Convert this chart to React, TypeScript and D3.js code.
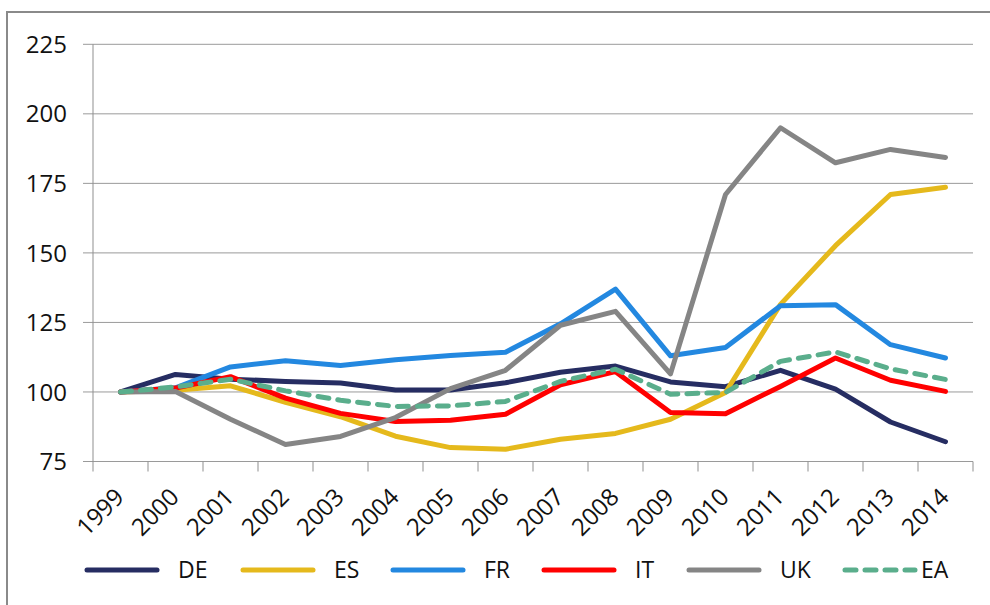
import React, { useEffect, useRef } from 'react';
import * as d3 from 'd3';

const years = ['1999', '2000', '2001', '2002', '2003', '2004', '2005', '2006',
  '2007', '2008', '2009', '2010', '2011', '2012', '2013', '2014'];

const seriesNames = ['DE', 'ES', 'FR', 'IT', 'UK', 'EA'];

const DE = [100, 106.3, 104.6, 103.8, 103.2, 100.7, 100.7, 103.3, 107.1, 109.3, 103.6, 101.9, 107.8, 101, 89.2, 82.1];
const ES = [100, 100.6, 102.2, 96.3, 91.1, 84.1, 80, 79.4, 83, 85.1, 90.2, 99.8, 131.5, 152.6, 171, 173.6];
const FR = [100, 101.5, 109, 111.2, 109.5, 111.6, 113.1, 114.3, 124.5, 137, 113, 116, 131, 131.4, 117, 112.2];
const IT = [100, 101.4, 105.5, 97.8, 92.3, 89.4, 89.8, 92, 102.6, 107.3, 92.6, 92.2, 102, 112.2, 104.2, 100.2];
const UK = [100, 100.2, 90.2, 81.1, 84, 90.8, 101.2, 107.8, 124, 129, 106.5, 171, 195, 182.4, 187.2, 184.3];
const EA = [100, 101.8, 104.6, 100.4, 97, 94.8, 95, 96.6, 103.8, 108.2, 99.2, 99.8, 111, 114.4, 108.3, 104.5];

const yTicks = [75, 100, 125, 150, 175, 200, 225];

const colors = ['#262d62', '#e5b91c', '#2388e0', '#ff0000', '#858585', '#5aae8c'];
// legend item x positions (line start)
const legendX = [85, 241, 391, 542, 687, 843];

function LineChart() {
  const ref = useRef<SVGSVGElement>(null);

  useEffect(() => {
    const svg = d3.select(ref.current);
    svg.selectAll('*').remove();

    const font = "'Open Sans', 'Liberation Sans', sans-serif";
    const values = [DE, ES, FR, IT, UK, EA];

    const x = d3.scaleBand().domain(years).range([93, 973]).padding(0);
    const y = d3.scaleLinear().domain([75, 225]).range([461.5, 44.3]);
    const cx = (d: string) => (x(d) as number) + x.bandwidth() / 2;

    // outer frame
    svg.append('rect')
      .attr('x', 7).attr('y', 12)
      .attr('width', 1000).attr('height', 700)
      .attr('fill', 'none')
      .attr('stroke', '#8a8a8a')
      .attr('stroke-width', 2);

    // gridlines + y ticks
    const g = svg.append('g');
    g.selectAll('line.grid')
      .data(yTicks)
      .enter()
      .append('line')
      .attr('x1', 83).attr('x2', 973)
      .attr('y1', d => y(d)).attr('y2', d => y(d))
      .attr('stroke', '#9a9a9a')
      .attr('stroke-width', 1);

    g.selectAll('text.ylab')
      .data(yTicks)
      .enter()
      .append('text')
      .attr('x', 67)
      .attr('y', d => y(d))
      .attr('dy', '0.36em')
      .attr('text-anchor', 'end')
      .style('font-family', font)
      .style('font-size', '24px')
      .style('fill', '#111')
      .text(d => d);

    // y axis line
    g.append('line')
      .attr('x1', 93).attr('x2', 93)
      .attr('y1', y(225)).attr('y2', y(75))
      .attr('stroke', '#8f8f8f');

    // x axis ticks at band edges
    const edges = years.map(d => x(d) as number).concat([973]);
    g.selectAll('line.xtick')
      .data(edges)
      .enter()
      .append('line')
      .attr('x1', d => d).attr('x2', d => d)
      .attr('y1', y(75)).attr('y2', y(75) + 10)
      .attr('stroke', '#8f8f8f');

    g.selectAll('text.xlab')
      .data(years)
      .enter()
      .append('text')
      .attr('transform', d => `translate(${cx(d) + 5},${y(75) + 37}) rotate(-45)`)
      .attr('text-anchor', 'end')
      .style('font-family', font)
      .style('font-size', '24px')
      .style('fill', '#111')
      .text(d => d);

    // series lines
    const line = d3.line<number>()
      .x((_, i) => cx(years[i]))
      .y(d => y(d));

    values.forEach((vals, i) => {
      svg.append('path')
        .datum(vals)
        .attr('d', line)
        .attr('fill', 'none')
        .attr('stroke', colors[i])
        .attr('stroke-width', 5)
        .attr('stroke-linejoin', 'round')
        .attr('stroke-linecap', 'round')
        .attr('stroke-dasharray', seriesNames[i] === 'EA' ? '11 9' : null);
    });

    // legend
    const leg = svg.append('g');
    seriesNames.forEach((name, i) => {
      leg.append('line')
        .attr('x1', legendX[i] + 2).attr('x2', legendX[i] + 72)
        .attr('y1', 570).attr('y2', 570)
        .attr('stroke', colors[i])
        .attr('stroke-width', 5)
        .attr('stroke-linecap', 'round')
        .attr('stroke-dasharray', name === 'EA' ? '11 9' : null);
      leg.append('text')
        .attr('x', name === 'EA' ? legendX[i] + 78 : legendX[i] + 93)
        .attr('y', 578)
        .style('font-family', font)
        .style('font-size', '23px')
        .style('fill', '#111')
        .text(name);
    });
  }, []);

  return (
    <svg ref={ref} width={990} height={605}
      style={{ position: 'absolute', left: 0, top: 0, background: '#fff' }} />
  );
}

export default function App() {
  return <LineChart />;
}
